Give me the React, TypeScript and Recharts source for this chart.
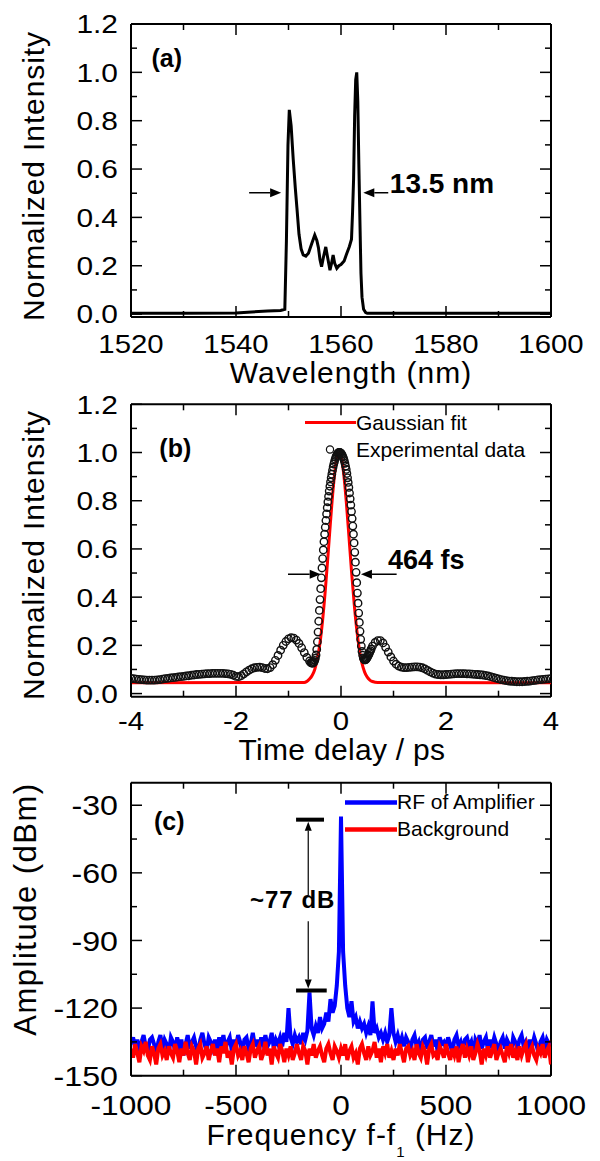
import React from 'react';
import {
  LineChart, ComposedChart, Line, Scatter, XAxis, YAxis,
  ReferenceLine, ReferenceDot, Legend, Label,
} from 'recharts';

const FONT = '"Liberation Sans", Arial, Helvetica, sans-serif';
const W = 600;
const PLOT_L = 131;
const PLOT_R = 551;

// (a) optical spectrum
const SPEC_WL = [1520, 1530, 1540, 1543, 1546, 1548.5, 1549.3, 1549.6, 1549.9, 1550.15, 1550.5, 1550.9, 1551.3, 1551.6,
  1552.0, 1552.4, 1552.8, 1553.3, 1553.8, 1554.4, 1555.0, 1555.4, 1555.7, 1556.0, 1556.3, 1556.7, 1557.1, 1557.4, 1557.9,
  1558.2, 1558.5, 1558.8, 1559.2, 1559.6, 1560.0, 1560.6, 1561.1, 1561.6, 1562.0, 1562.2, 1562.4, 1562.6, 1562.8, 1563.0,
  1563.2, 1563.4, 1563.6, 1563.8, 1564.0, 1564.3, 1564.7, 1565, 1580, 1600];
const SPEC_INT = [0.004, 0.004, 0.005, 0.009, 0.013, 0.015, 0.02, 0.3, 0.7, 0.845, 0.78, 0.64, 0.52, 0.44,
  0.33, 0.27, 0.245, 0.24, 0.252, 0.29, 0.327, 0.305, 0.275, 0.225, 0.196, 0.24, 0.278, 0.24, 0.182,
  0.21, 0.244, 0.21, 0.189, 0.2, 0.205, 0.22, 0.251, 0.28, 0.31, 0.42, 0.56, 0.82, 0.97, 1.0,
  0.88, 0.62, 0.39, 0.17, 0.07, 0.02, 0.006, 0.003, 0.003, 0.003];

// (b) autocorrelation trace
const EXP_T = [
  -4, -3.95, -3.9, -3.85, -3.8, -3.75, -3.7, -3.65, -3.6, -3.55, -3.5, -3.45, -3.4, -3.35, -3.3, -3.25, -3.2, -3.15,
  -3.1, -3.05, -3, -2.95, -2.9, -2.85, -2.8, -2.75, -2.7, -2.65, -2.6, -2.55, -2.5, -2.45, -2.4, -2.35, -2.3, -2.25,
  -2.2, -2.15, -2.1, -2.05, -2, -1.95, -1.9, -1.85, -1.8, -1.75, -1.7, -1.65, -1.6, -1.55, -1.5, -1.45, -1.4, -1.35,
  -1.3, -1.25, -1.2, -1.15, -1.1, -1.05, -1, -0.95, -0.9, -0.85, -0.8, -0.75, -0.7, -0.65, -0.6,
  -0.575, -0.5625, -0.55, -0.5375, -0.525, -0.5125, -0.5, -0.4875, -0.475, -0.4625,
  -0.45, -0.4375, -0.425, -0.4125, -0.4, -0.3875, -0.375, -0.3625, -0.35, -0.3375,
  -0.325, -0.3125, -0.3, -0.2875, -0.275, -0.2625, -0.25, -0.2375, -0.225, -0.2125,
  -0.2, -0.1875, -0.175, -0.1625, -0.15, -0.1375, -0.125, -0.1125, -0.1, -0.0875,
  -0.075, -0.0625, -0.05, -0.0375, -0.025, -0.0125, 0,
  0.0125, 0.025, 0.0375, 0.05, 0.0625, 0.075, 0.0875, 0.1, 0.1125, 0.125,
  0.1375, 0.15, 0.1625, 0.175, 0.1875, 0.2, 0.2125, 0.225, 0.2375, 0.25,
  0.2625, 0.275, 0.2875, 0.3, 0.3125, 0.325, 0.3375, 0.35, 0.3625, 0.375,
  0.3875, 0.4, 0.4125, 0.425, 0.4375, 0.45, 0.4625, 0.475, 0.4875, 0.5,
  0.5125, 0.525, 0.5375, 0.55, 0.5625, 0.575,
  0.6, 0.65, 0.7, 0.75, 0.8, 0.85, 0.9, 0.95, 1, 1.05, 1.1, 1.15, 1.2, 1.25, 1.3, 1.35, 1.4, 1.45, 1.5, 1.55, 1.6, 1.65,
  1.7, 1.75, 1.8, 1.85, 1.9, 1.95, 2, 2.05, 2.1, 2.15, 2.2, 2.25, 2.3, 2.35, 2.4, 2.45, 2.5, 2.55, 2.6, 2.65, 2.7, 2.75,
  2.8, 2.85, 2.9, 2.95, 3, 3.05, 3.1, 3.15, 3.2, 3.25, 3.3, 3.35, 3.4, 3.45, 3.5, 3.55, 3.6, 3.65, 3.7, 3.75, 3.8, 3.85,
  3.9, 3.95, 4];
const EXP_I = [
  0.063, 0.062, 0.060, 0.059, 0.058, 0.057, 0.056, 0.056, 0.056, 0.056,
  0.057, 0.058, 0.060, 0.062, 0.063, 0.065, 0.066, 0.067, 0.069, 0.070,
  0.071, 0.073, 0.074, 0.076, 0.077, 0.079, 0.080, 0.081, 0.082, 0.083,
  0.083, 0.084, 0.084, 0.084, 0.084, 0.084, 0.083, 0.082, 0.080, 0.076,
  0.071, 0.070, 0.074, 0.082, 0.090, 0.097, 0.103, 0.107, 0.109, 0.110,
  0.108, 0.104, 0.103, 0.108, 0.120, 0.138, 0.158, 0.180, 0.200, 0.216,
  0.227, 0.232, 0.230, 0.222, 0.208, 0.190, 0.170, 0.150, 0.135,
  0.128, 0.127, 0.126, 0.126, 0.128, 0.132, 0.138, 0.147, 0.160, 0.183,
  0.215, 0.255, 0.300, 0.345, 0.390, 0.435, 0.480, 0.521, 0.560, 0.596,
  0.630, 0.661, 0.690, 0.718, 0.745, 0.771, 0.795, 0.818, 0.840, 0.860,
  0.878, 0.895, 0.910, 0.926, 0.940, 0.952, 0.962, 0.972, 0.980, 0.986,
  0.992, 0.996, 0.999, 1.000, 1.000, 0.999, 0.997,
  0.993, 0.988, 0.982, 0.975, 0.966, 0.955, 0.943, 0.930, 0.913, 0.895,
  0.876, 0.855, 0.832, 0.808, 0.782, 0.755, 0.726, 0.695, 0.661, 0.625,
  0.586, 0.545, 0.503, 0.460, 0.417, 0.375, 0.334, 0.295, 0.258, 0.225,
  0.197, 0.175, 0.159, 0.148, 0.142, 0.140, 0.140, 0.142, 0.145, 0.150,
  0.155, 0.160, 0.166, 0.172, 0.178, 0.185,
  0.197, 0.212, 0.220, 0.220, 0.210, 0.192, 0.172, 0.152, 0.135, 0.122,
  0.114, 0.110, 0.108, 0.108, 0.109, 0.110, 0.111, 0.111, 0.110, 0.107,
  0.102, 0.096, 0.090, 0.085, 0.081, 0.079, 0.078, 0.078, 0.079, 0.080,
  0.081, 0.082, 0.083, 0.083, 0.083, 0.083, 0.082, 0.082, 0.081, 0.080,
  0.079, 0.078, 0.077, 0.075, 0.073, 0.070, 0.067, 0.064, 0.061, 0.058,
  0.056, 0.054, 0.052, 0.051, 0.050, 0.049, 0.049, 0.049, 0.050, 0.051,
  0.052, 0.054, 0.055, 0.057, 0.058, 0.059, 0.060, 0.061, 0.062];
const FIT_T = [-4, -0.7, -0.6, -0.55, -0.5, -0.45, -0.4, -0.35, -0.3, -0.25, -0.2, -0.15, -0.1, -0.05, 0,
  0.05, 0.1, 0.15, 0.2, 0.25, 0.3, 0.35, 0.4, 0.45, 0.5, 0.55, 0.6, 0.7, 4];
const FIT_I = [0.045, 0.046, 0.06, 0.075, 0.10, 0.145, 0.21, 0.305, 0.426, 0.566, 0.713, 0.848, 0.949, 0.997, 0.985,
  0.914, 0.797, 0.655, 0.508, 0.375, 0.265, 0.182, 0.125, 0.089, 0.068, 0.056, 0.05, 0.046, 0.045];

// (c) RF spectrum, 10 Hz sweep
const FREQ = [
  -1000, -990, -980, -970, -960, -950, -940, -930, -920, -910, -900, -890, -880, -870, -860, -850, -840, -830, -820, -810,
  -800, -790, -780, -770, -760, -750, -740, -730, -720, -710, -700, -690, -680, -670, -660, -650, -640, -630, -620, -610,
  -600, -590, -580, -570, -560, -550, -540, -530, -520, -510, -500, -490, -480, -470, -460, -450, -440, -430, -420, -410,
  -400, -390, -380, -370, -360, -350, -340, -330, -320, -310, -300, -290, -280, -270, -260, -250, -240, -230, -220, -210,
  -200, -190, -180, -170, -160, -150, -140, -130, -120, -110, -100, -90, -80, -70, -60, -50, -40, -30, -20, -10,
  0, 10, 20, 30, 40, 50, 60, 70, 80, 90, 100, 110, 120, 130, 140, 150, 160, 170, 180, 190,
  200, 210, 220, 230, 240, 250, 260, 270, 280, 290, 300, 310, 320, 330, 340, 350, 360, 370, 380, 390,
  400, 410, 420, 430, 440, 450, 460, 470, 480, 490, 500, 510, 520, 530, 540, 550, 560, 570, 580, 590,
  600, 610, 620, 630, 640, 650, 660, 670, 680, 690, 700, 710, 720, 730, 740, 750, 760, 770, 780, 790,
  800, 810, 820, 830, 840, 850, 860, 870, 880, 890, 900, 910, 920, 930, 940, 950, 960, 970, 980, 990, 1000];
const RF_A = [
  -136, -133, -138, -134, -140, -135, -132, -137, -139, -134,
  -133, -136, -141, -135, -132, -138, -134, -136, -140, -133,
  -135, -139, -133, -137, -134, -141, -136, -132, -138, -135,
  -133, -137, -140, -134, -131, -136, -139, -133, -135, -138,
  -134, -140, -133, -136, -132, -138, -135, -133, -139, -134,
  -137, -132, -135, -140, -134, -133, -138, -136, -131, -137,
  -134, -139, -133, -136, -132, -137, -135, -131, -138, -134,
  -136, -133, -137, -131, -135, -120, -133, -136, -132, -135,
  -133, -136, -131, -134, -130, -113, -129, -132, -128, -131,
  -124, -129, -127, -122, -126, -116, -122, -119, -110, -95,
  -35, -95, -110, -120, -124, -117, -126, -124, -129, -126,
  -129, -127, -131, -128, -132, -117, -131, -129, -133, -131,
  -134, -131, -135, -132, -120, -131, -135, -132, -136, -133,
  -137, -133, -135, -139, -134, -132, -137, -135, -140, -134,
  -133, -138, -135, -132, -137, -134, -139, -133, -136, -135,
  -138, -133, -136, -140, -134, -132, -137, -135, -139, -134,
  -133, -137, -135, -141, -134, -136, -132, -138, -135, -133,
  -139, -134, -137, -133, -136, -140, -135, -133, -138, -134,
  -136, -140, -133, -135, -138, -134, -132, -137, -135, -139,
  -134, -137, -133, -136, -140, -135, -133, -138, -134, -136, -135];
const BG_A = [
  -138, -142, -136, -140, -144, -137, -139, -135, -141, -143,
  -137, -140, -145, -138, -136, -141, -139, -143, -137, -140,
  -142, -136, -139, -144, -138, -141, -135, -140, -143, -137,
  -139, -145, -138, -136, -142, -140, -137, -143, -139, -136,
  -141, -138, -144, -137, -140, -135, -142, -139, -145, -138,
  -136, -141, -139, -143, -137, -140, -144, -138, -136, -142,
  -139, -137, -143, -140, -135, -141, -138, -145, -137, -140,
  -142, -136, -139, -144, -138, -141, -137, -143, -140, -136,
  -140, -143, -137, -139, -145, -138, -141, -136, -142, -139,
  -137, -141, -144, -138, -136, -140, -143, -137, -139, -142,
  -138, -141, -136, -143, -139, -137, -142, -140, -145, -138,
  -136, -140, -143, -137, -141, -139, -135, -142, -138, -144,
  -137, -140, -136, -142, -139, -143, -138, -141, -136, -140,
  -144, -138, -137, -141, -139, -143, -136, -140, -142, -137,
  -139, -145, -138, -136, -141, -140, -143, -137, -139, -142,
  -136, -140, -143, -138, -141, -137, -144, -139, -136, -142,
  -138, -141, -137, -143, -140, -136, -139, -145, -138, -141,
  -137, -142, -139, -136, -143, -140, -138, -141, -144, -137,
  -140, -136, -142, -139, -143, -137, -141, -138, -136, -144,
  -139, -137, -141, -143, -138, -140, -136, -142, -139, -137, -145];

// ticks
const WL_TICKS = [1520, 1530, 1540, 1550, 1560, 1570, 1580, 1590, 1600];
const WL_MAJOR = [1520, 1540, 1560, 1580, 1600];
const INT_TICKS = [0, 0.1, 0.2, 0.3, 0.4, 0.5, 0.6, 0.7, 0.8, 0.9, 1.0, 1.1, 1.2];
const INT_MAJOR = [0, 0.2, 0.4, 0.6, 0.8, 1.0, 1.2];
const T_TICKS = [-4, -3, -2, -1, 0, 1, 2, 3, 4];
const T_MAJOR = [-4, -2, 0, 2, 4];
const F_TICKS = [-1000, -750, -500, -250, 0, 250, 500, 750, 1000];
const F_MAJOR = [-1000, -500, 0, 500, 1000];
const A_TICKS = [-150, -135, -120, -105, -90, -75, -60, -45, -30];
const A_MAJOR = [-150, -120, -90, -60, -30];

const zip = (xs: number[], ys: number[]) => xs.map((x, i) => ({ x, y: ys[i] }));
const specData = zip(SPEC_WL, SPEC_INT);
const expData = zip(EXP_T, EXP_I);
const fitData = zip(FIT_T, FIT_I);
const rfData = zip(FREQ, RF_A);
const bgData = zip(FREQ, BG_A);

const xTick = (top: number, bottom: number, major: number[], size: number, dy: number) => (p: any) => {
  const v = p.payload.value;
  const isMajor = major.includes(v);
  const len = isMajor ? 11 : 6;
  return (
    <g>
      <line x1={p.x} x2={p.x} y1={bottom} y2={bottom - len} stroke="#000" strokeWidth={1.5} />
      <line x1={p.x} x2={p.x} y1={top} y2={top + len} stroke="#000" strokeWidth={1.5} />
      {isMajor && (
        <text transform={`translate(${p.x},${bottom + dy}) scale(1.13,1)`} textAnchor="middle"
          fontSize={size} fontFamily={FONT} fill="#000">{v}</text>
      )}
    </g>
  );
};

const yTick = (major: number[], size: number, fmt: (v: number) => string) => (p: any) => {
  const v = p.payload.value;
  const isMajor = major.includes(v);
  const len = isMajor ? 11 : 6;
  return (
    <g>
      <line x1={PLOT_L} x2={PLOT_L + len} y1={p.y} y2={p.y} stroke="#000" strokeWidth={1.5} />
      <line x1={PLOT_R} x2={PLOT_R - len} y1={p.y} y2={p.y} stroke="#000" strokeWidth={1.5} />
      {isMajor && (
        <text transform={`translate(${PLOT_L - 13},${p.y}) scale(1.15,1)`} dy="0.36em" textAnchor="end"
          fontSize={size} fontFamily={FONT} fill="#000">{fmt(v)}</text>
      )}
    </g>
  );
};

const xTitle = (x: number, y: number, text: React.ReactNode, ls = 1) => () => (
  <text x={x} y={y} textAnchor="middle" fontSize={30} fontFamily={FONT} letterSpacing={ls} fill="#000">{text}</text>
);

const yTitle = (x: number, y: number, text: string, size = 30, ls = 1) => () => (
  <text x={x} y={y} transform={`rotate(-90, ${x}, ${y})`} textAnchor="middle" fontSize={size}
    fontFamily={FONT} letterSpacing={ls} fill="#000">{text}</text>
);

const textShape = (txt: string, size: number, anchor = 'start', ls = 0) => (p: any) => (
  <text x={p.cx} y={p.cy} fontSize={size} fontWeight="bold" fontFamily={FONT} textAnchor={anchor}
    letterSpacing={ls} fill="#000">{txt}</text>
);

const arrow = (hl: number, hw: number, sw: number) => (p: any) => {
  const { x1, y1, x2, y2 } = p;
  const dx = x2 - x1;
  const dy = y2 - y1;
  const L = Math.hypot(dx, dy) || 1;
  const ux = dx / L;
  const uy = dy / L;
  const bx = x2 - ux * hl;
  const by = y2 - uy * hl;
  return (
    <g>
      <line x1={x1} y1={y1} x2={bx} y2={by} stroke="#000" strokeWidth={sw} />
      <polygon points={`${x2},${y2} ${bx - uy * hw},${by + ux * hw} ${bx + uy * hw},${by - ux * hw}`} fill="#000" />
    </g>
  );
};

const ring = (p: any) => <circle cx={p.cx} cy={p.cy} r={3.7} fill="none" stroke="#111" strokeWidth={1.4} />;

const row: React.CSSProperties = { display: 'flex', alignItems: 'center', height: 27, whiteSpace: 'nowrap' };

const FitLegend = () => (
  <div style={{ fontFamily: FONT, fontSize: 21, color: '#000' }}>
    <div style={row}>
      <svg width={51} height={27}><line x1={0} x2={51} y1={13.5} y2={13.5} stroke="#ff0000" strokeWidth={3} /></svg>
      <span>Gaussian fit</span>
    </div>
    <div style={row}>
      <svg width={51} height={27}><circle cx={25} cy={13.5} r={3.6} fill="none" stroke="#111" strokeWidth={1.2} /></svg>
      <span>Experimental data</span>
    </div>
  </div>
);

const RfLegend = () => (
  <div style={{ fontFamily: FONT, fontSize: 21, color: '#000' }}>
    <div style={row}>
      <svg width={52} height={27}><line x1={0} x2={52} y1={13.5} y2={13.5} stroke="#0000ff" strokeWidth={4.5} /></svg>
      <span>RF of Amplifier</span>
    </div>
    <div style={row}>
      <svg width={52} height={27}><line x1={0} x2={52} y1={13.5} y2={13.5} stroke="#ff0000" strokeWidth={4.5} /></svg>
      <span>Background</span>
    </div>
  </div>
);

const axisLine = { stroke: '#000', strokeWidth: 2 };

export default function App() {
  return (
    <div style={{ position: 'absolute', left: 0, top: 0, width: 600, height: 1161, background: '#fff' }}>
      {/* (a) */}
      <div style={{ position: 'absolute', left: 0, top: 0 }}>
        <LineChart width={W} height={390} margin={{ top: 24, right: 49, bottom: 0, left: 0 }}>
          <XAxis dataKey="x" type="number" domain={[1520, 1600]} allowDataOverflow ticks={WL_TICKS} interval={0}
            height={73} axisLine={axisLine} tickLine={false} tick={xTick(24, 317, WL_MAJOR, 26, 36)}>
            <Label content={xTitle(351, 383, 'Wavelength (nm)', 1)} />
          </XAxis>
          <YAxis type="number" domain={[-0.012, 1.2]} allowDataOverflow ticks={INT_TICKS} interval={0} width={131}
            axisLine={axisLine} tickLine={false} tick={yTick(INT_MAJOR, 26, (v) => v.toFixed(1))}>
            <Label content={yTitle(44, 176, 'Normalized Intensity', 30, 0.9)} />
          </YAxis>
          <ReferenceLine y={1.2} stroke="#000" strokeWidth={2} />
          <ReferenceLine x={1600} stroke="#000" strokeWidth={2} />
          <Line data={specData} dataKey="y" type="linear" stroke="#000" strokeWidth={3} dot={false}
            isAnimationActive={false} />
          <ReferenceLine segment={[{ x: 1542.5, y: 0.502 }, { x: 1548.6, y: 0.502 }]} shape={arrow(11, 4.5, 1.5)} />
          <ReferenceLine segment={[{ x: 1569.0, y: 0.502 }, { x: 1564.25, y: 0.502 }]} shape={arrow(11, 4.5, 1.5)} />
          <ReferenceDot x={1523.9} y={1.023} r={0} shape={textShape('(a)', 25)} />
          <ReferenceDot x={1569.3} y={0.501} r={0} shape={textShape('13.5 nm', 28)} />
        </LineChart>
      </div>

      {/* (b) */}
      <div style={{ position: 'absolute', left: 0, top: 380 }}>
        <ComposedChart width={W} height={400} margin={{ top: 24.3, right: 49, bottom: 0, left: 0 }}>
          <XAxis dataKey="x" type="number" domain={[-4, 4]} allowDataOverflow ticks={T_TICKS} interval={0}
            height={83.3} axisLine={axisLine} tickLine={false} tick={xTick(24.3, 316.7, T_MAJOR, 26, 33)}>
            <Label content={xTitle(342, 380, 'Time delay / ps', 0.3)} />
          </XAxis>
          <YAxis type="number" domain={[-0.013, 1.2]} allowDataOverflow ticks={INT_TICKS} interval={0} width={131}
            axisLine={axisLine} tickLine={false} tick={yTick(INT_MAJOR, 26, (v) => v.toFixed(1))}>
            <Label content={yTitle(44, 175, 'Normalized Intensity', 30, 0.9)} />
          </YAxis>
          <ReferenceLine y={1.2} stroke="#000" strokeWidth={2} />
          <ReferenceLine x={4} stroke="#000" strokeWidth={2} />
          <Scatter name="Experimental data" data={expData} dataKey="y" shape={ring} isAnimationActive={false} />
          <Line name="Gaussian fit" data={fitData} dataKey="y" type="monotone" stroke="#ff0000" strokeWidth={3}
            dot={false} isAnimationActive={false} />
          <ReferenceLine segment={[{ x: -1.01, y: 0.495 }, { x: -0.387, y: 0.495 }]} shape={arrow(11, 4.5, 1.5)} />
          <ReferenceLine segment={[{ x: 1.06, y: 0.495 }, { x: 0.38, y: 0.495 }]} shape={arrow(11, 4.5, 1.5)} />
          <ReferenceDot x={-3.46} y={0.98} r={0} shape={textShape('(b)', 25)} />
          <ReferenceDot x={0.895} y={0.518} r={0} shape={textShape('464 fs', 27)} />
          <Legend layout="vertical" align="center" verticalAlign="middle"
            wrapperStyle={{ left: 305, top: 29, width: 260 }} content={() => <FitLegend />} />
        </ComposedChart>
      </div>

      {/* (c) */}
      <div style={{ position: 'absolute', left: 0, top: 770 }}>
        <LineChart width={W} height={391} margin={{ top: 12.7, right: 49, bottom: 0, left: 0 }}>
          <XAxis dataKey="x" type="number" domain={[-1000, 1000]} allowDataOverflow ticks={F_TICKS} interval={0}
            height={85.3} axisLine={axisLine} tickLine={false} tick={xTick(12.7, 305.7, F_MAJOR, 28, 39)}>
            <Label content={xTitle(341, 375, <>Frequency f-f<tspan fontSize={15} dy={12}>1</tspan><tspan dy={-12}> (Hz)</tspan></>, 1)} />
          </XAxis>
          <YAxis type="number" domain={[-150, -20]} allowDataOverflow ticks={A_TICKS} interval={0} width={131}
            axisLine={axisLine} tickLine={false} tick={yTick(A_MAJOR, 28, (v) => String(v))}>
            <Label content={yTitle(36, 139, 'Amplitude (dBm)', 31, 1.5)} />
          </YAxis>
          <ReferenceLine y={-20} stroke="#000" strokeWidth={2} />
          <ReferenceLine x={1000} stroke="#000" strokeWidth={2} />
          <Line name="RF of Amplifier" data={rfData} dataKey="y" type="linear" stroke="#0000ff" strokeWidth={4}
            dot={false} isAnimationActive={false} />
          <Line name="Background" data={bgData} dataKey="y" type="linear" stroke="#ff0000" strokeWidth={4}
            dot={false} isAnimationActive={false} />
          <ReferenceLine segment={[{ x: -214, y: -36.4 }, { x: -81, y: -36.4 }]} stroke="#000" strokeWidth={4} />
          <ReferenceLine segment={[{ x: -214, y: -112.2 }, { x: -68, y: -112.2 }]} stroke="#000" strokeWidth={4} />
          <ReferenceLine segment={[{ x: -156, y: -70 }, { x: -156, y: -37.3 }]} shape={arrow(9, 3.5, 1.2)} />
          <ReferenceLine segment={[{ x: -156, y: -81.5 }, { x: -156, y: -111.3 }]} shape={arrow(9, 3.5, 1.2)} />
          <ReferenceDot x={-890.5} y={-40.8} r={0} shape={textShape('(c)', 25)} />
          <ReferenceDot x={-230} y={-75.4} r={0} shape={textShape('~77 dB', 24, 'middle', 1)} />
          <Legend layout="vertical" align="center" verticalAlign="middle"
            wrapperStyle={{ left: 345, top: 18.5, width: 240 }} content={() => <RfLegend />} />
        </LineChart>
      </div>
    </div>
  );
}
